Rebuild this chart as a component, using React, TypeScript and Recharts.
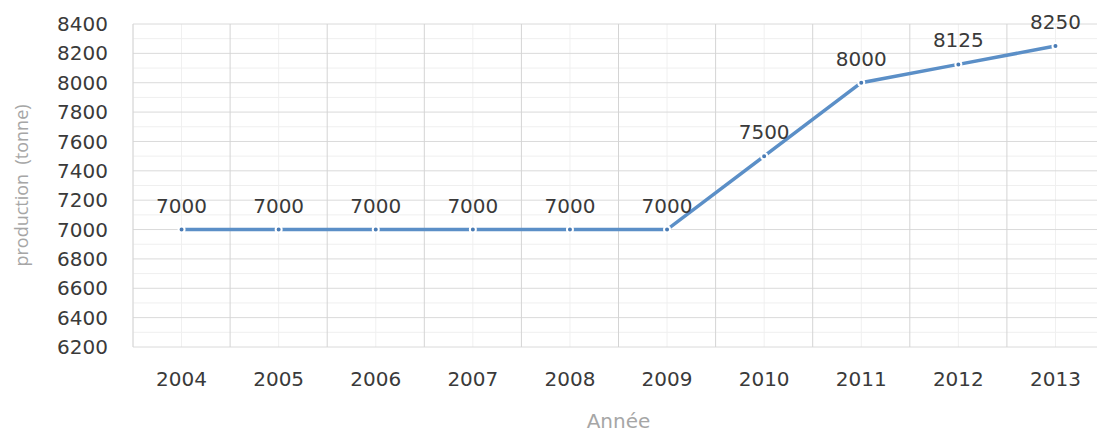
import React from "react";
import {
  LineChart,
  Line,
  XAxis,
  YAxis,
  CartesianGrid,
  ReferenceLine,
  LabelList,
  Label,
} from "recharts";

// production par année
const years = [2004, 2005, 2006, 2007, 2008, 2009, 2010, 2011, 2012, 2013];
const production = [7000, 7000, 7000, 7000, 7000, 7000, 7500, 8000, 8125, 8250];

const yTicks = [6200, 6400, 6600, 6800, 7000, 7200, 7400, 7600, 7800, 8000, 8200, 8400];
const yMinorTicks = [6300, 6500, 6700, 6900, 7100, 7300, 7500, 7700, 7900, 8100, 8300];
const yearBounds = [
  2003.5, 2004.5, 2005.5, 2006.5, 2007.5, 2008.5, 2009.5, 2010.5, 2011.5, 2012.5, 2013.5,
];

const data = years.map((year, i) => ({ year, production: production[i] }));

const textColor = "#3a3a3a";
const titleColor = "#a6a6a6";
const font = "DejaVu Sans";
const tickStyle = { fill: textColor, fontSize: 20, fontFamily: font };

export default function App() {
  return (
    <div
      style={{
        position: "absolute",
        top: 0,
        left: 0,
        width: 1097,
        height: 432,
        overflow: "hidden",
        background: "#fff",
      }}
    >
      <LineChart
        width={1110}
        height={432}
        data={data}
        margin={{ top: 24, right: 6, left: 0, bottom: 0 }}
      >
        {/* grille secondaire */}
        {yMinorTicks.map((v) => (
          <ReferenceLine key={`m${v}`} y={v} stroke="#efefef" strokeWidth={1} />
        ))}
        <CartesianGrid horizontal={false} stroke="#f0f0f0" />
        <CartesianGrid vertical={false} stroke="#dadada" />
        {yearBounds.map((v) => (
          <ReferenceLine key={`b${v}`} x={v} stroke="#d4d4d4" strokeWidth={1} />
        ))}

        <XAxis
          dataKey="year"
          type="number"
          domain={[2003.5, 2013.5]}
          ticks={years}
          interval={0}
          tickFormatter={(v: number) => String(v)}
          tick={tickStyle}
          tickLine={false}
          axisLine={false}
          tickSize={0}
          tickMargin={25}
          height={85}
        >
          <Label
            content={({ viewBox }: any) => (
              <text
                x={viewBox.x + viewBox.width / 2}
                y={viewBox.y + 81}
                textAnchor="middle"
                fill={titleColor}
                fontSize={20}
                fontFamily={font}
              >
                Année
              </text>
            )}
          />
        </XAxis>
        <YAxis
          domain={[6200, 8400]}
          ticks={yTicks}
          interval={0}
          tick={tickStyle}
          tickLine={false}
          axisLine={false}
          tickSize={0}
          tickMargin={25}
          width={133}
        >
          <Label
            content={({ viewBox }: any) => {
              const cx = 21;
              const cy = viewBox.y + viewBox.height / 2;
              return (
                <text
                  x={cx}
                  y={cy}
                  transform={`rotate(-90 ${cx} ${cy})`}
                  textAnchor="middle"
                  dominantBaseline="central"
                  fill={titleColor}
                  fontSize={18}
                  fontFamily="Open Sans"
                  style={{ whiteSpace: "pre" }}
                >
                  production  (tonne)
                </text>
              );
            }}
          />
        </YAxis>

        <Line
          type="linear"
          dataKey="production"
          stroke="#5b8fc7"
          strokeWidth={3.5}
          dot={{ r: 3, fill: "#4a7bb4", stroke: "#ffffff", strokeWidth: 2 }}
          isAnimationActive={false}
        >
          <LabelList
            dataKey="production"
            position="top"
            offset={17}
            fill={textColor}
            fontSize={20}
            fontFamily={font}
          />
        </Line>
      </LineChart>
    </div>
  );
}
